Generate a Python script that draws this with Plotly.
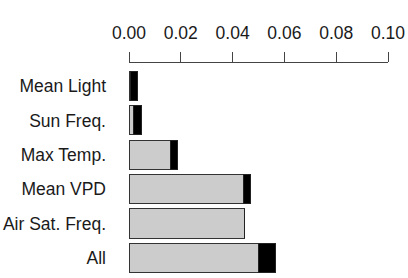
import plotly.graph_objects as go

categories = ["Mean Light", "Sun Freq.", "Max Temp.", "Mean VPD", "Air Sat. Freq.", "All"]
gray_vals = [0.0006, 0.0017, 0.0161, 0.0441, 0.0445, 0.0500]
black_vals = [0.0026, 0.0032, 0.0025, 0.0028, 0.0000, 0.0067]
tick_vals = [0.00, 0.02, 0.04, 0.06, 0.08, 0.10]
tick_text = ["0.00", "0.02", "0.04", "0.06", "0.08", "0.10"]

fig = go.Figure()
fig.add_trace(go.Bar(y=categories, x=gray_vals, orientation="h",
                     marker=dict(color="#cccccc", line=dict(color="#333333", width=1))))
fig.add_trace(go.Bar(y=categories, x=black_vals, orientation="h",
                     marker=dict(color="#000000", line=dict(color="#222222", width=1))))

fig.update_layout(
    barmode="stack", bargap=0.15,
    width=408, height=278,
    margin=dict(l=129, r=20, t=63, b=3),
    paper_bgcolor="white", plot_bgcolor="white",
    showlegend=False,
    font=dict(family="Liberation Sans, Arial, sans-serif", size=17.5, color="#1a1a1a"),
    xaxis=dict(side="top", range=[0, 0.1], tickvals=tick_vals, ticktext=tick_text,
               showgrid=False, zeroline=False, showline=True, linecolor="#444444", linewidth=1,
               ticks="outside", ticklen=10, tickcolor="#444444", tickwidth=1,
               ticklabelstandoff=6),
    yaxis=dict(range=[5.5, -0.67], showgrid=False, zeroline=False, showline=False,
               ticks="", ticklabelstandoff=22),
)

fig.write_html("out.html")
